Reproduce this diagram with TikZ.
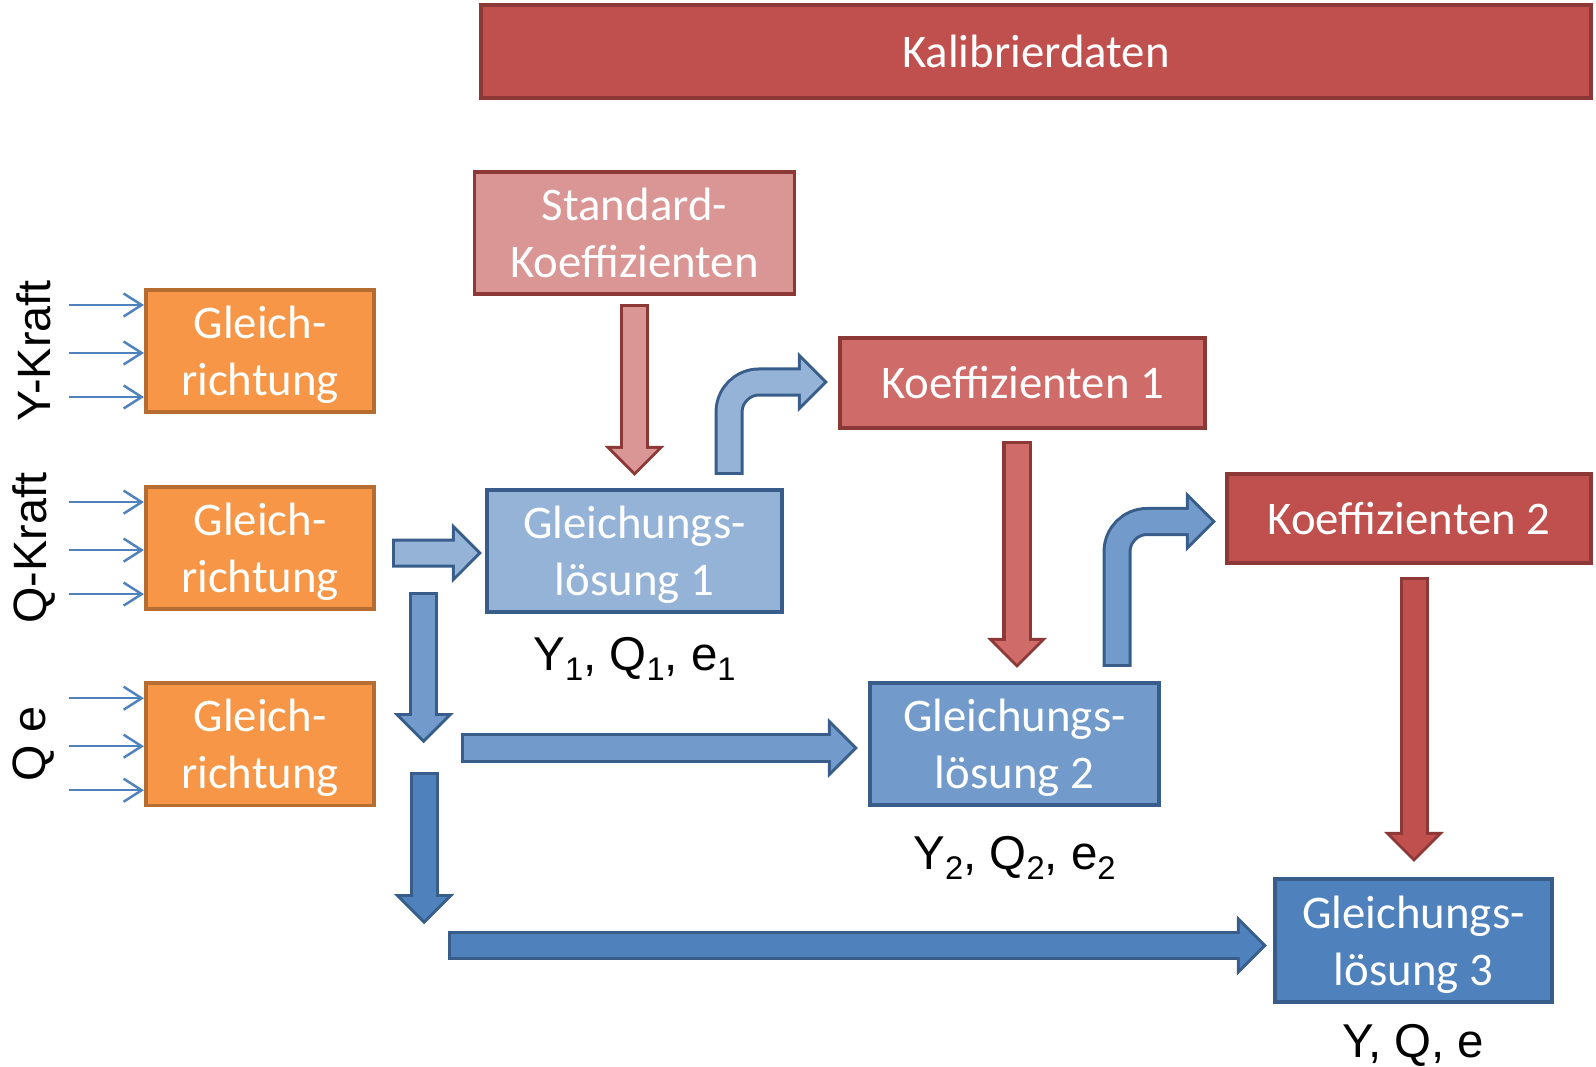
\documentclass[tikz,border=0pt]{standalone}
\usepackage{fontspec}
\setmainfont{Carlito}
\newfontfamily\arialfont{Liberation Sans}
\usepackage{tikz}
\usetikzlibrary{arrows.meta}
\usetikzlibrary{positioning,calc}

\definecolor{kalred}{HTML}{C0504D}
\definecolor{redline}{HTML}{8C3836}
\definecolor{lightred}{HTML}{D99694}
\definecolor{midred}{HTML}{CF6B68}
\definecolor{orangefill}{HTML}{F79646}
\definecolor{orangeline}{HTML}{B66D31}
\definecolor{lightblue}{HTML}{95B3D7}
\definecolor{midblue}{HTML}{729ACA}
\definecolor{darkblue}{HTML}{4F81BD}
\definecolor{blueline}{HTML}{385D8A}

\newcommand{\lowidx}[1]{\raisebox{-2.8pt}{\fontsize{9.3}{10}\selectfont #1}}
\newcommand{\bigarrow}[3]{%
	\draw[arrowborder=#1] #3;
	\draw[arrowbody=#2] #3;
}

\begin{document}
\begin{tikzpicture}[x=0.01cm,y=-0.01cm,
	every node/.style={inner sep=0pt,outer sep=0pt},
	box/.style={draw,line width=1pt,align=center,text=white,font=\fontsize{13.3}{16.2}\selectfont},
	redbox/.style={box,draw=redline},
	orangebox/.style={box,draw=orangeline,fill=orangefill,minimum width=2.28cm,minimum height=1.22cm,text depth=0pt},
	bluebox/.style={box,draw=blueline,minimum height=1.22cm,text depth=0pt},
	lbl/.style={font=\arialfont\fontsize{13.5}{16}\selectfont},
	sidelbl/.style={font=\arialfont\fontsize{13.3}{16}\selectfont,rotate=90},
	thinarrow/.style={draw=darkblue,line width=0.7pt,-{Straight Barb[length=1.8mm,width=2.3mm]}},
	arrowborder/.style={draw=#1,line width=2.9mm,rounded corners=3mm,-{Triangle[length=3mm,width=6mm,line width=0pt]}},
	arrowbody/.style={draw=#1,line width=2.3mm,rounded corners=3mm,shorten <=0.3mm,shorten >=0.42mm,-{Triangle[length=2.28mm,width=4.56mm,line width=0pt]}}]

	\useasboundingbox (0,0) rectangle (1596,1067);

	\node[redbox,fill=kalred,minimum width=11.09cm,minimum height=0.93cm] (kal) at (1036,51.5) {Kalibrierdaten};

	\node[orangebox] (GR1) at (260,351) {Gleich-\\richtung};
	\node[orangebox,below=0.75cm of GR1] (GR2) {Gleich-\\richtung};
	\node[orangebox,below=0.74cm of GR2] (GR3) {Gleich-\\richtung};

	\node[sidelbl,left=1.12cm of GR1,anchor=center] (ykraft) {Y-Kraft};
	\node[sidelbl,left=1.12cm of GR2,anchor=center] (qkraft) {Q-Kraft};
	\node[sidelbl,left=1.12cm of GR3,anchor=center] (qe) {Q e};

	\node[bluebox,fill=lightblue,minimum width=2.95cm] (GL1) at (634.5,551) {Gleichungs-\\lösung 1};
	\node[redbox,fill=lightred,minimum width=3.2cm,minimum height=1.22cm,above=1.96cm of GL1] (StdK) {Standard-\\Koeffizienten};
	\node[redbox,fill=midred,minimum width=3.65cm,minimum height=0.9cm] (K1) at (1022.5,383) {Koeffizienten 1};
	\node[bluebox,fill=midblue,minimum width=2.89cm] (GL2) at (1014.5,744) {Gleichungs-\\lösung 2};
	\node[redbox,fill=kalred,minimum width=3.64cm,minimum height=0.89cm] (K2) at (1409,518.5) {Koeffizienten 2};
	\node[bluebox,fill=darkblue,minimum width=2.77cm,minimum height=1.23cm] (GL3) at (1413.5,940.5) {Gleichungs-\\lösung 3};

	\node[lbl,below=0.25cm of GL1] (res1) {Y\lowidx{1}, Q\lowidx{1}, e\lowidx{1}};
	\node[lbl,below=0.31cm of GL2] (res2) {Y\lowidx{2}, Q\lowidx{2}, e\lowidx{2}};
	\node[lbl,below=0.22cm of GL3] (res3) {Y, Q, e};

	\foreach \g in {GR1,GR2,GR3}
		\foreach \dy in {-46,2,46}
			\draw[thinarrow] ($(\g.west)+(-77,\dy)$) -- ($(\g.west)+(-2,\dy)$);

	\bigarrow{redline}{lightred}{([yshift=-0.1cm]StdK.south) -- ([yshift=0.14cm]GL1.north)}
	\bigarrow{redline}{midred}{($(K1.south)+(-5.5,13)$) -- ($(GL2.north)+(2.5,-15)$)}
	\bigarrow{redline}{kalred}{($(K2.south)+(5,14)$) -- ($(GL3.north)+(0.5,-17)$)}

	\bigarrow{blueline}{lightblue}{($(GR2.east)+(18,5)$) -- ($(GL1.west)+(-5,2)$)}
	\bigarrow{blueline}{lightblue}{($(GL1.north east)+(-53,-15)$) |- ($(K1.west)+(-12,-1)$)}
	\bigarrow{blueline}{midblue}{($(GR2.east)+(49.5,44)$) -- ($(GR3.east)+(49.5,-1)$)}
	\bigarrow{blueline}{midblue}{($(GL2.west)+(-409,4)$) -- ($(GL2.west)+(-12,4)$)}
	\bigarrow{blueline}{midblue}{($(GL2.north east)+(-42,-16)$) |- ($(K2.west)+(-11,3)$)}
	\bigarrow{blueline}{darkblue}{($(GR3.east)+(50,28)$) -- ($(GR3.east)+(50,180)$)}
	\bigarrow{blueline}{darkblue}{($(GL3.west)+(-827,5)$) -- ($(GL3.west)+(-8,5)$)}

\end{tikzpicture}
\end{document}
